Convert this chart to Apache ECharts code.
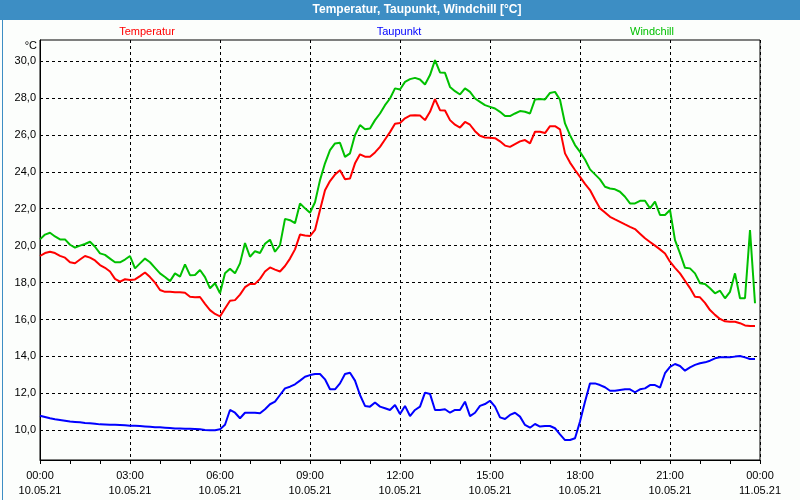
<!DOCTYPE html>
<html>
<head>
<meta charset="utf-8">
<script src="https://cdn.jsdelivr.net/npm/echarts@6/dist/echarts.min.js"></script>
<style>html,body{margin:0;padding:0;background:#fcfefc}#c{width:800px;height:500px}</style>
</head>
<body>
<div id="c"></div>
<script>
// 10-minute readings, 10.05.21 00:00 .. 23:50
const temperatur = [
19.44,19.6,19.67,19.6,19.45,19.35,19.1,19.05,19.25,19.44,19.35,19.2,
18.95,18.8,18.6,18.2,18.05,18.18,18.14,18.17,18.35,18.55,18.3,18.0,
17.6,17.5,17.5,17.48,17.47,17.45,17.23,17.2,17.22,16.85,16.51,16.3,
16.17,16.6,17.02,17.05,17.35,17.75,17.93,17.93,18.2,18.6,18.82,18.7,
18.6,18.9,19.3,19.8,20.6,20.55,20.52,20.85,21.93,23.0,23.5,23.85,
24.09,23.6,23.64,24.46,24.95,24.82,24.81,25.05,25.35,25.75,26.15,26.6,
26.65,26.9,27.05,27.07,27.05,26.8,27.25,27.94,27.34,27.32,26.8,26.55,
26.4,26.7,26.55,26.2,25.95,25.86,25.84,25.82,25.65,25.42,25.35,25.5,
25.65,25.72,25.54,26.17,26.17,26.1,26.47,26.47,26.3,25.0,24.5,24.1,
23.73,23.35,23.01,22.5,22.02,21.8,21.56,21.42,21.29,21.15,21.02,20.9,
20.65,20.4,20.2,20.0,19.8,19.58,19.13,18.8,18.5,18.1,17.7,17.23,
17.2,16.9,16.51,16.25,16.03,15.9,15.88,15.88,15.8,15.68,15.65,15.65
];
const taupunkt = [
10.79,10.72,10.65,10.6,10.56,10.52,10.47,10.45,10.43,10.4,10.38,10.35,
10.32,10.31,10.3,10.3,10.29,10.27,10.25,10.24,10.23,10.21,10.19,10.17,
10.16,10.14,10.12,10.1,10.09,10.08,10.08,10.07,10.05,10.02,10.0,10.0,
10.05,10.3,11.1,10.95,10.65,10.95,10.95,10.95,10.92,11.14,11.41,11.55,
11.91,12.27,12.36,12.49,12.69,12.9,12.99,13.05,13.05,12.76,12.22,12.22,
12.54,13.05,13.12,12.69,11.91,11.32,11.28,11.5,11.28,11.19,11.1,11.37,
10.88,11.32,10.77,11.1,11.28,12.04,11.97,11.1,11.1,11.14,10.95,11.1,
11.1,11.55,10.77,10.95,11.32,11.42,11.6,11.28,10.7,10.61,10.83,10.95,
10.74,10.29,10.14,10.34,10.2,10.23,10.23,10.11,9.78,9.47,9.47,9.57,
10.47,11.55,12.54,12.54,12.45,12.33,12.14,12.14,12.18,12.22,12.22,12.06,
12.22,12.27,12.45,12.45,12.31,13.09,13.44,13.59,13.48,13.23,13.41,13.54,
13.63,13.68,13.77,13.9,13.95,13.95,13.95,13.99,14.02,13.95,13.86,13.86
];
const windchill = [
20.34,20.6,20.7,20.5,20.34,20.34,20.05,19.89,20.0,20.09,20.21,19.94,
19.58,19.5,19.3,19.1,19.1,19.25,19.44,18.77,19.04,19.3,19.1,18.8,
18.5,18.3,18.08,18.5,18.32,18.99,18.4,18.41,18.68,18.3,17.69,17.96,
17.42,18.5,18.75,18.5,19.04,20.14,19.4,19.7,19.6,20.1,20.32,19.67,
20.03,21.45,21.38,21.22,22.29,22.02,21.78,22.35,23.55,24.46,25.18,25.54,
25.57,24.81,25.0,25.99,26.53,26.3,26.35,26.8,27.16,27.61,27.97,28.52,
28.46,28.87,29.02,29.09,29.0,28.73,29.24,30.05,29.38,29.36,28.6,28.37,
28.19,28.52,28.33,27.97,27.79,27.61,27.52,27.43,27.25,27.02,27.02,27.16,
27.29,27.25,27.16,27.92,27.95,27.92,28.27,28.33,27.9,26.62,25.99,25.45,
25.08,24.67,24.13,23.86,23.59,23.19,23.1,23.05,22.92,22.65,22.29,22.29,
22.43,22.43,22.02,22.38,21.66,21.66,21.93,20.3,19.58,18.8,18.77,18.5,
17.96,17.92,17.69,17.42,17.56,17.15,17.5,18.5,17.15,17.15,20.84,16.88
];
const yTicks = [10,12,14,16,18,20,22,24,26,28,30];
const seriesNames = ['Temperatur','Taupunkt','Windchill'];
const seriesColors = ['#ff0000','#0000ff','#00c000'];

// time categories, 10-minute steps over the day plus the closing midnight
const categories = [];
for (let i = 0; i <= 144; i++) {
  const h = Math.floor(i / 6) % 24, m = (i % 6) * 10;
  const d = i === 144 ? '11.05.21' : '10.05.21';
  categories.push(String(h).padStart(2,'0') + ':' + String(m).padStart(2,'0') + '\n' + d);
}

const FONT = 'Liberation Sans';
const chart = echarts.init(document.getElementById('c'), null, {renderer: 'canvas'});
chart.setOption({
  backgroundColor: '#fcfefc',
  animation: false,
  textStyle: {fontFamily: FONT},
  grid: {left: 40, right: 40, top: 40, bottom: 40, show: true, borderColor: '#000', borderWidth: 1, containLabel: false},
  xAxis: {
    type: 'category', data: categories, boundaryGap: false,
    axisLine: {lineStyle: {color: '#000', width: 1}},
    axisTick: {show: true, interval: 5, length: 4, lineStyle: {color: '#000'}},
    axisLabel: {interval: 17, color: '#000', fontSize: 11, fontFamily: FONT, lineHeight: 15, margin: 8, showMaxLabel: true},
    splitLine: {show: true, interval: 17, lineStyle: {color: '#000', type: [3,3], width: 1}}
  },
  yAxis: {
    type: 'value', min: 8.39, max: 31.14,
    axisLine: {show: true, lineStyle: {color: '#000', width: 1}},
    axisTick: {show: false, customValues: yTicks},
    axisLabel: {customValues: yTicks, color: '#000', fontSize: 11, fontFamily: FONT, margin: 4,
      formatter: v => v.toFixed(1).replace('.', ',')},
    splitLine: {show: true, lineStyle: {color: '#000', type: [3,3], width: 1}}
  },
  series: [
    {name: seriesNames[0], type: 'line', data: temperatur, showSymbol: false, lineStyle: {color: seriesColors[0], width: 2}, itemStyle: {color: seriesColors[0]}, z: 3},
    {name: seriesNames[1], type: 'line', data: taupunkt, showSymbol: false, lineStyle: {color: seriesColors[1], width: 2}, itemStyle: {color: seriesColors[1]}, z: 3},
    {name: seriesNames[2], type: 'line', data: windchill, showSymbol: false, lineStyle: {color: seriesColors[2], width: 2}, itemStyle: {color: seriesColors[2]}, z: 4}
  ],
  graphic: [
    {type: 'rect', left: 0, top: 0, shape: {width: 800, height: 20}, style: {fill: '#3d8ec4'}, z: 10},
    {type: 'rect', left: 0, top: 0, shape: {x: 0.5, y: 0.5, width: 799, height: 499}, style: {fill: null, stroke: '#3d8ec4', lineWidth: 1}, z: 10},
    {type: 'text', x: 417, y: 10, style: {text: 'Temperatur, Taupunkt, Windchill [°C]', fill: '#fff', font: 'bold 12px "Liberation Sans"', align: 'center', verticalAlign: 'middle'}, z: 11},
    {type: 'text', x: 147, y: 32, style: {text: seriesNames[0], fill: seriesColors[0], font: '11px "Liberation Sans"', align: 'center', verticalAlign: 'middle'}},
    {type: 'text', x: 399, y: 32, style: {text: seriesNames[1], fill: seriesColors[1], font: '11px "Liberation Sans"', align: 'center', verticalAlign: 'middle'}},
    {type: 'text', x: 652, y: 32, style: {text: seriesNames[2], fill: seriesColors[2], font: '11px "Liberation Sans"', align: 'center', verticalAlign: 'middle'}},
    {type: 'text', x: 37, y: 46, style: {text: '°C', fill: '#000', font: '11px "Liberation Sans"', align: 'right', verticalAlign: 'middle'}}
  ]
});
</script>
</body>
</html>
